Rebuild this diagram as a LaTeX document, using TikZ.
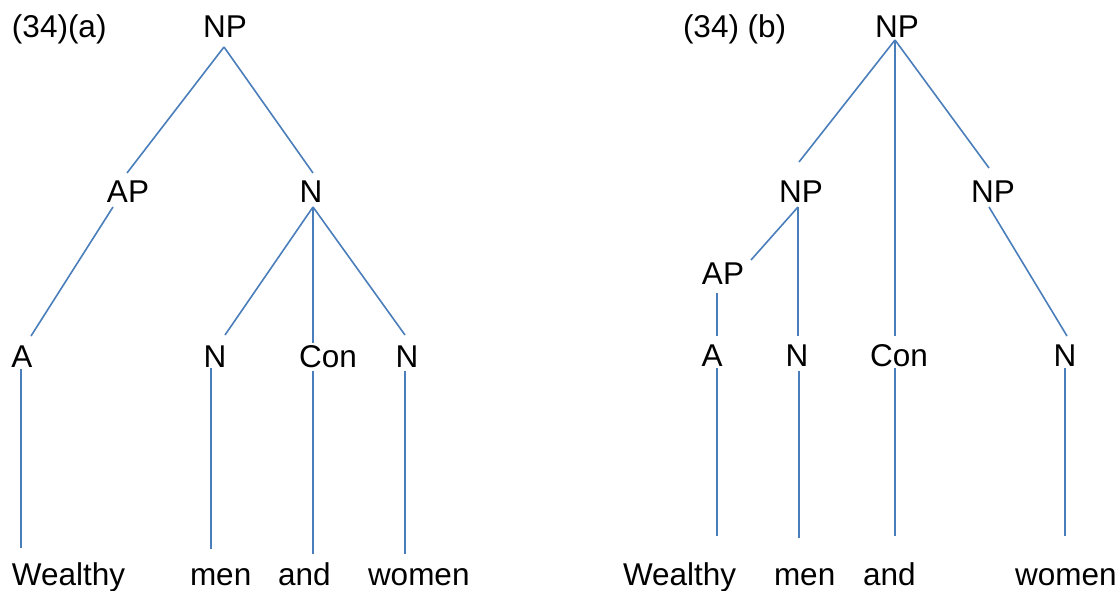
\documentclass[tikz,border=0pt]{standalone}
\usepackage{fontspec}
\setmainfont{Liberation Sans}
\begin{document}
\begin{tikzpicture}[x=1pt,y=-1pt,
  lbl/.style={inner sep=0pt,outer sep=0pt,anchor=base,font=\fontsize{31.5}{36}\selectfont},
  wrd/.style={inner sep=0pt,outer sep=0pt,anchor=base west,font=\fontsize{31.5}{36}\selectfont},
  edge/.style={draw=linecol,line width=1.6pt}]
\definecolor{linecol}{HTML}{4A7EBB}
\useasboundingbox (0,0) rectangle (1120,591);
% ---------- (a) ----------
\node[wrd] (laba) at (12,38) {(34)(a)};
\node[lbl] (npA) at (225,38) {NP};
\node[lbl] (apA) at (128,203) {AP};
\node[lbl] (nA) at (311,203) {N};
\node[lbl] (aA) at (22,367) {A};
\node[lbl] (n1A) at (215,367) {N};
\node[lbl] (conA) at (328,367) {Con};
\node[lbl] (n2A) at (407,367) {N};
\node[wrd] (wA) at (12,585) {Wealthy};
\node[wrd] (mA) at (190,585) {men};
\node[wrd] (andA) at (278,585) {and};
\node[wrd] (womA) at (368,585) {women};
\draw[edge] ([xshift=-1pt,yshift=-9pt]npA.base) -- ([xshift=-1pt,yshift=30pt]apA.base);
\draw[edge] ([xshift=-1pt,yshift=-9pt]npA.base) -- ([xshift=2pt,yshift=30pt]nA.base);
\draw[edge] ([xshift=-15pt,yshift=-4pt]apA.base) -- ([xshift=9pt,yshift=31pt]aA.base);
\draw[edge] ([xshift=2pt,yshift=-4pt]nA.base) -- ([xshift=10pt,yshift=32pt]n1A.base);
\draw[edge] ([xshift=2pt,yshift=-4pt]nA.base) -- ([xshift=-15pt,yshift=24pt]conA.base);
\draw[edge] ([xshift=2pt,yshift=-4pt]nA.base) -- ([xshift=-2pt,yshift=32pt]n2A.base);
\draw[edge] ([xshift=-1pt,yshift=-2pt]aA.base) -- ([xshift=9pt,yshift=37pt]wA.base west);
\draw[edge] ([xshift=-4pt,yshift=-1pt]n1A.base) -- ([xshift=21pt,yshift=36pt]mA.base west);
\draw[edge] ([xshift=-15pt,yshift=-4pt]conA.base) -- ([xshift=35pt,yshift=31pt]andA.base west);
\draw[edge] ([xshift=-2pt,yshift=-4pt]n2A.base) -- ([xshift=37pt,yshift=31pt]womA.base west);
% ---------- (b) ----------
\node[wrd] (labb) at (683,38) {(34) (b)};
\node[lbl] (npB) at (897,38) {NP};
\node[lbl] (np1B) at (801,203) {NP};
\node[lbl] (np2B) at (993,203) {NP};
\node[lbl] (apB) at (723,284) {AP};
\node[lbl] (aB) at (712,366) {A};
\node[lbl] (nB) at (797,366) {N};
\node[lbl] (conB) at (899,366) {Con};
\node[lbl] (n3B) at (1065,366) {N};
\node[wrd] (wB) at (623,585) {Wealthy};
\node[wrd] (mB) at (774,585) {men};
\node[wrd] (andB) at (863,585) {and};
\node[wrd] (womB) at (1015,585) {women};
\draw[edge] ([xshift=-2pt,yshift=-2pt]npB.base) -- ([xshift=-2pt,yshift=41pt]np1B.base);
\draw[edge] ([xshift=-2pt,yshift=-2pt]npB.base) -- ([xshift=-4pt,yshift=30pt]conB.base);
\draw[edge] ([xshift=-2pt,yshift=-2pt]npB.base) -- ([xshift=-4pt,yshift=35pt]np2B.base);
\draw[edge] ([xshift=-3pt,yshift=-4pt]np1B.base) -- ([xshift=28pt,yshift=24pt]apB.base);
\draw[edge] ([xshift=-3pt,yshift=-4pt]np1B.base) -- ([xshift=1pt,yshift=30pt]nB.base);
\draw[edge] ([xshift=-4pt,yshift=-4pt]np2B.base) -- ([xshift=2pt,yshift=30pt]n3B.base);
\draw[edge] ([xshift=-6pt,yshift=-9pt]apB.base) -- ([xshift=5pt,yshift=30pt]aB.base);
\draw[edge] ([xshift=5pt,yshift=-2pt]aB.base) -- ([xshift=94pt,yshift=49pt]wB.base west);
\draw[edge] ([xshift=2pt,yshift=-5pt]nB.base) -- ([xshift=25pt,yshift=47pt]mB.base west);
\draw[edge] ([xshift=-4pt,yshift=-2pt]conB.base) -- ([xshift=32pt,yshift=49pt]andB.base west);
\draw[edge] ([xshift=0pt,yshift=-2pt]n3B.base) -- ([xshift=50pt,yshift=49pt]womB.base west);
\end{tikzpicture}
\end{document}
